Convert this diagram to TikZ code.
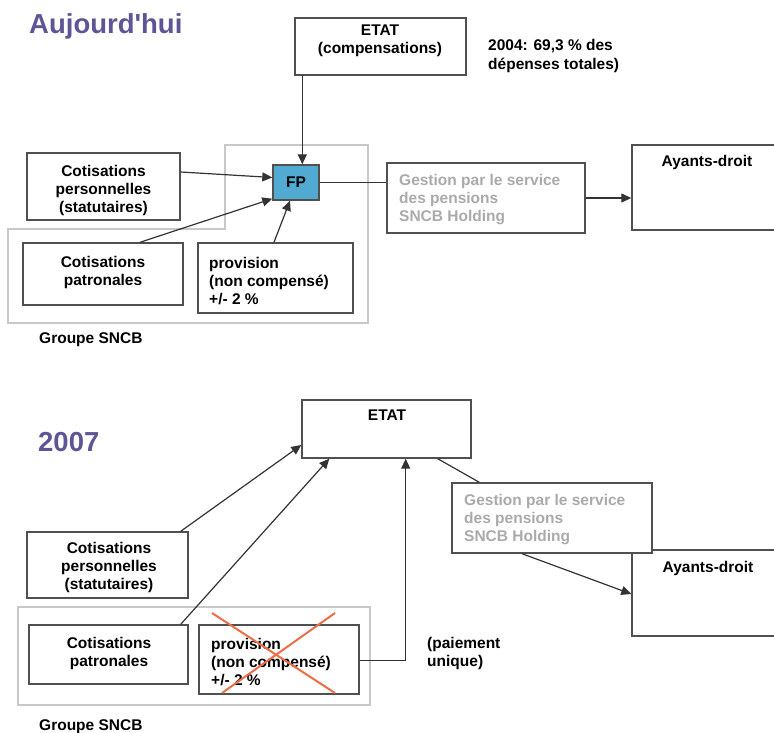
\documentclass[tikz,border=0pt]{standalone}
\usepackage{fontspec}
\setmainfont{Liberation Sans}
\newfontfamily\titlefont[Ligatures=TeXOff]{Liberation Sans}
\usetikzlibrary{arrows.meta,fit,calc}
\definecolor{ttl}{RGB}{95,85,150}
\definecolor{fpblue}{RGB}{80,170,210}
\definecolor{boxline}{RGB}{80,80,80}
\definecolor{grp}{RGB}{200,200,200}
\definecolor{gtext}{RGB}{170,170,170}
\definecolor{xred}{RGB}{235,110,70}
\tikzset{
  box/.style={draw=boxline, line width=1.4pt, inner sep=0pt, fill=white},
  grpline/.style={draw=grp, line width=1.4pt},
  txt/.style={font=\fontsize{15.5}{18}\selectfont\bfseries, inner sep=0pt, align=center},
  ltxt/.style={txt, align=left, anchor=west},
  gtxt/.style={ltxt, text=gtext},
  title/.style={font=\titlefont\fontsize{27.5}{30}\selectfont\bfseries, text=ttl, inner sep=0pt, anchor=west},
  conn/.style={draw=black!80, line width=1.2pt},
  arr/.style={conn, -{Triangle[length=10pt,width=9pt]}},
}
\begin{document}
\begin{tikzpicture}[x=1pt,y=-1pt]
\useasboundingbox (0,0) rectangle (774,733);
% ================= Aujourd'hui =================
\node[title] (t1) at (29,26) {Aujourd'hui};
% group outline
\draw[grpline] (225,145) -- (368,145) -- (368,323) -- (8,323) -- (8,229) -- (225,229) -- cycle;
\node[box, fit={(295,18)(466,75)}] (etat1) {};
\node[txt] (etat1t) at (380,41) {ETAT\\(compensations)};
\node[ltxt] (note1) at (488,56) {2004: 69,3 \% des\\[1pt]dépenses totales)};
\node[box, fit={(27,153)(180,220)}] (cp1) {};
\node[txt] (cp1t) at (103.5,190.5) {Cotisations\\personnelles\\(statutaires)};
\node[box, fill=fpblue, fit={(273,165)(319,200)}] (fp1) {};
\node[txt] (fp1t) at (fp1) {FP};
\node[box, fit={(23,243)(183,305)}] (pat1) {};
\node[txt] (pat1t) at (103,272) {Cotisations\\patronales};
\node[box, fit={(198,243)(353,313)}] (prov1) {};
\node[ltxt] (prov1t) at (209,281) {provision\\(non compensé)\\+/- 2 \%};
\node[box, fit={(387,163)(585,233)}] (gest1) {};
\node[gtxt] (gest1t) at (399,199.5) {Gestion par le service\\des pensions\\SNCB Holding};
\node[box, fit={(632,145)(790,230)}] (ay1) {};
\node[txt] (ay1t) at (707,162) {Ayants-droit};
\node[ltxt] (g1) at (39,340) {Groupe SNCB};
% connectors
\draw[arr] ([xshift=8pt]etat1.south west) -- ([xshift=8pt]etat1.south west |- fp1.north);
\draw[arr] ([yshift=14.5pt]cp1.east) -- ([yshift=5pt]fp1.west);
\draw[arr] ([xshift=37pt]pat1.north) -- ([yshift=2pt]fp1.south west);
\draw[arr] ([xshift=-1.5pt]prov1.north) -- ([xshift=-6pt]fp1.south);
\draw[conn] (fp1.east) -- (fp1.east -| gest1.west);
\draw[arr] (gest1.east) -- (gest1.east -| ay1.west);
% ================= 2007 =================
\node[title] (t2) at (38,442) {2007};
\draw[grpline] (18,607) rectangle (370,705);
\node[box, fit={(632,550)(790,636)}] (ay2) {};
\node[txt] (ay2t) at (708,568) {Ayants-droit};
\node[box, fit={(302,400)(471,458)}] (etat2) {};
\node[txt] (etat2t) at (387,415) {ETAT};
\node[box, fit={(27,532)(188,598)}] (cp2) {};
\node[txt] (cp2t) at (109,567.5) {Cotisations\\personnelles\\(statutaires)};
\node[box, fit={(29,625)(188,684)}] (pat2) {};
\node[txt] (pat2t) at (109,653) {Cotisations\\patronales};
\node[box, fit={(199,625)(359,694)}] (prov2) {};
\node[ltxt] (prov2t) at (211,662) {provision\\(non compensé)\\+/- 2 \%};
\node[box, fit={(452,483)(652,553)}] (gest2) {};
\node[gtxt] (gest2t) at (464,520) {Gestion par le service\\des pensions\\SNCB Holding};
\node[ltxt] (pay) at (427,653) {(paiement\\unique)};
\node[ltxt] (g2) at (39,727) {Groupe SNCB};
% red cross
\coordinate (xa) at (212,613);
\coordinate (xb) at (335,693);
\coordinate (xc) at (335,613);
\coordinate (xd) at (222,693);
\draw[xred, line width=2pt] (xa) -- (xb) (xc) -- (xd);
% connectors
\draw[arr] ([xshift=-8pt]cp2.north east) -- ([yshift=-16pt]etat2.west);
\draw[arr] ([xshift=-8pt]pat2.north east) -- ([xshift=28pt]etat2.south west);
\draw[arr] ([yshift=-1pt]prov2.east) -- ++(46,0) coordinate (bend) -- (bend |- etat2.south);
\draw[conn] ([xshift=-34pt]etat2.south east) -- ([xshift=28pt]gest2.north west);
\draw[arr] ([xshift=-30pt]gest2.south) -- ([yshift=-1pt]ay2.west);
\end{tikzpicture}
\end{document}
